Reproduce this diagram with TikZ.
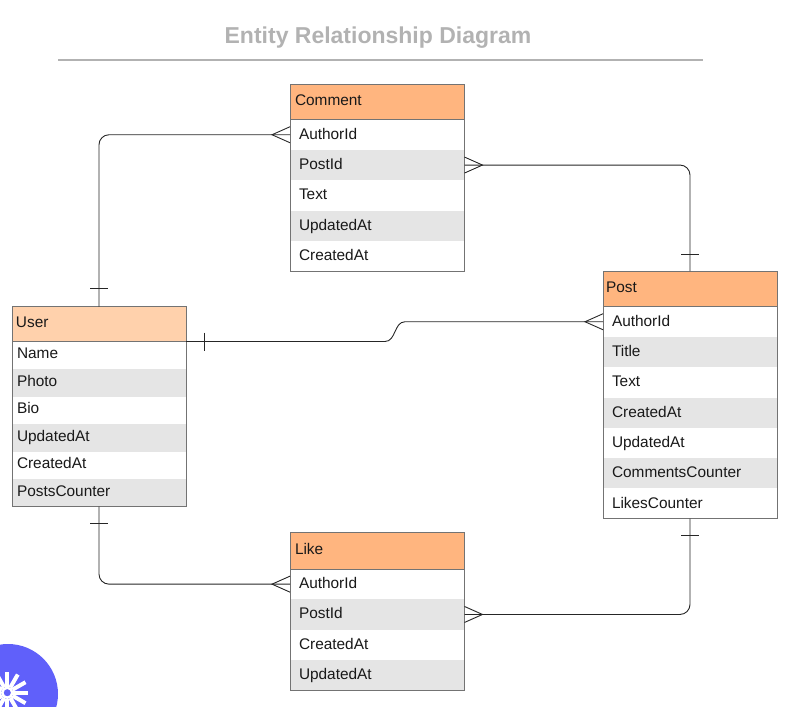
\documentclass[tikz,border=0pt]{standalone}
\usepackage{fontspec}
\setmainfont{Liberation Sans}
\usetikzlibrary{positioning}
\definecolor{comment orange}{HTML}{FFB57F}
\definecolor{user orange}{HTML}{FFD1AC}
\definecolor{row grey}{HTML}{E5E5E5}
\definecolor{badge blue}{HTML}{6060FA}
\begin{document}
\begin{tikzpicture}[
  x=1pt,y=1pt,
  cell/.style={inner ysep=0,outer sep=0,text width=156.5pt,minimum width=174.5pt,align=left,font=\fontsize{15.4}{18}\selectfont,text height=11pt,text depth=2pt,text=black!90},
  head/.style={cell,inner xsep=5pt,text width=164.5pt,minimum height=35.6pt,text depth=3.5pt,fill=comment orange},
  row1/.style={cell,inner xsep=9pt,minimum height=30.3pt,fill=white},
  row0/.style={row1,fill=row grey},
  box/.style={draw=black!55,line width=.8pt},
  link/.style={draw=black!85,line width=.9pt},
  round link/.style={link,rounded corners=10pt},
]
  \useasboundingbox (0,0) rectangle (793,-707);

  \node[font=\bfseries\fontsize{23}{26}\selectfont,text=black!30] (title) at (378,-38) {Entity Relationship Diagram};
  \coordinate (ruleA) at (58,-60);
  \coordinate (ruleB) at (703,-60);
  \draw[black!30,line width=1.2pt] (ruleA) -- (ruleB);

  % comment table
  \node[head,anchor=north west] (comment0) at (290,-84) {Comment};
  \foreach \txt [count=\i,remember=\i as \j (initially 0),evaluate={\s=int(mod(\i,2))}] in {AuthorId,PostId,Text,UpdatedAt,CreatedAt}
    \node[row\s,below=0pt of comment\j] (comment\i) {\txt};
  \draw[box] (comment0.north west) rectangle (comment5.south east);
  \draw[box] (comment0.south west) -- (comment0.south east);

  % post table
  \node[head,anchor=north west,inner xsep=3pt,text width=168pt,minimum width=174pt] (post0) at (603,-271) {Post};
  \foreach \txt [count=\i,remember=\i as \j (initially 0),evaluate={\s=int(mod(\i,2))}] in {AuthorId,Title,Text,CreatedAt,UpdatedAt,CommentsCounter,LikesCounter}
    \node[row\s,minimum width=174pt,text width=156pt,below=0pt of post\j] (post\i) {\txt};
  \draw[box] (post0.north west) rectangle (post7.south east);
  \draw[box] (post0.south west) -- (post0.south east);

  % user table
  \node[head,anchor=north west,fill=user orange,minimum height=35pt,text depth=5pt,inner xsep=4pt,text width=166pt,minimum width=174pt] (user0) at (12,-306.5) {User};
  \foreach \txt [count=\i,remember=\i as \j (initially 0),evaluate={\s=int(mod(\i,2))}] in {Name,Photo,Bio,UpdatedAt,CreatedAt,PostsCounter}
    \node[row\s,minimum height=27.5pt,inner xsep=5pt,minimum width=174pt,text width=164pt,text depth=4pt,below=0pt of user\j] (user\i) {\txt};
  \draw[box] (user0.north west) rectangle (user6.south east);
  \draw[box] (user0.south west) -- (user0.south east);

  % like table
  \node[head,anchor=north west,minimum height=36.5pt,text depth=3pt] (like0) at (290,-532.5) {Like};
  \foreach \txt [count=\i,remember=\i as \j (initially 0),evaluate={\s=int(mod(\i,2))}] in {AuthorId,PostId,CreatedAt,UpdatedAt}
    \node[row\s,below=0pt of like\j] (like\i) {\txt};
  \draw[box] (like0.north west) rectangle (like4.south east);
  \draw[box] (like0.south west) -- (like0.south east);

  % links
  \draw[round link] (user0.north) |- (comment1.west);
  \draw[round link] (comment2.east) -| (post0.north);
  \draw[round link] (user6.south) |- (like1.west);
  \draw[round link] (like2.east) -| (post7.south);
  \coordinate (bendA) at ([xshift=199pt]user0.south east);
  \coordinate (bendB) at ([xshift=-198pt]post1.west);
  \draw[link] (user0.south east) -- (bendA) to[out=0,in=180] (bendB) -- (post1.west);

  % crows feet
  \draw[link] ([yshift=8pt]comment1.west) -- ([xshift=-18pt]comment1.west) -- ([yshift=-8pt]comment1.west);
  \draw[link] ([yshift=8pt]comment2.east) -- ([xshift=18pt]comment2.east) -- ([yshift=-8pt]comment2.east);
  \draw[link] ([yshift=8pt]post1.west) -- ([xshift=-18pt]post1.west) -- ([yshift=-8pt]post1.west);
  \draw[link] ([yshift=8pt]like1.west) -- ([xshift=-18pt]like1.west) -- ([yshift=-8pt]like1.west);
  \draw[link] ([yshift=8pt]like2.east) -- ([xshift=18pt]like2.east) -- ([yshift=-8pt]like2.east);

  % bars
  \draw[link] ([xshift=-9pt,yshift=18pt]user0.north) -- ([xshift=9pt,yshift=18pt]user0.north);
  \draw[link] ([xshift=-9pt,yshift=17pt]post0.north) -- ([xshift=9pt,yshift=17pt]post0.north);
  \draw[link] ([xshift=-9pt,yshift=-17pt]user6.south) -- ([xshift=9pt,yshift=-17pt]user6.south);
  \draw[link] ([xshift=-9pt,yshift=-17pt]post7.south) -- ([xshift=9pt,yshift=-17pt]post7.south);
  \draw[link] ([xshift=18pt,yshift=9pt]user0.south east) -- ([xshift=18pt,yshift=-9pt]user0.south east);

  % badge
  \node[circle,fill=badge blue,minimum size=100pt,inner sep=0] (badge) at (8,-694) {};
  \foreach \a in {0,30,...,330}
    \draw[white,line width=4pt] ([shift={(\a:6)}]7.3,-692.7) -- ([shift={(\a:21)}]7.3,-692.7);
  \node[circle,fill=badge blue,draw=white,line width=2.5pt,minimum size=10pt,inner sep=0] (badgehole) at (7.3,-692.7) {};
\end{tikzpicture}
\end{document}
